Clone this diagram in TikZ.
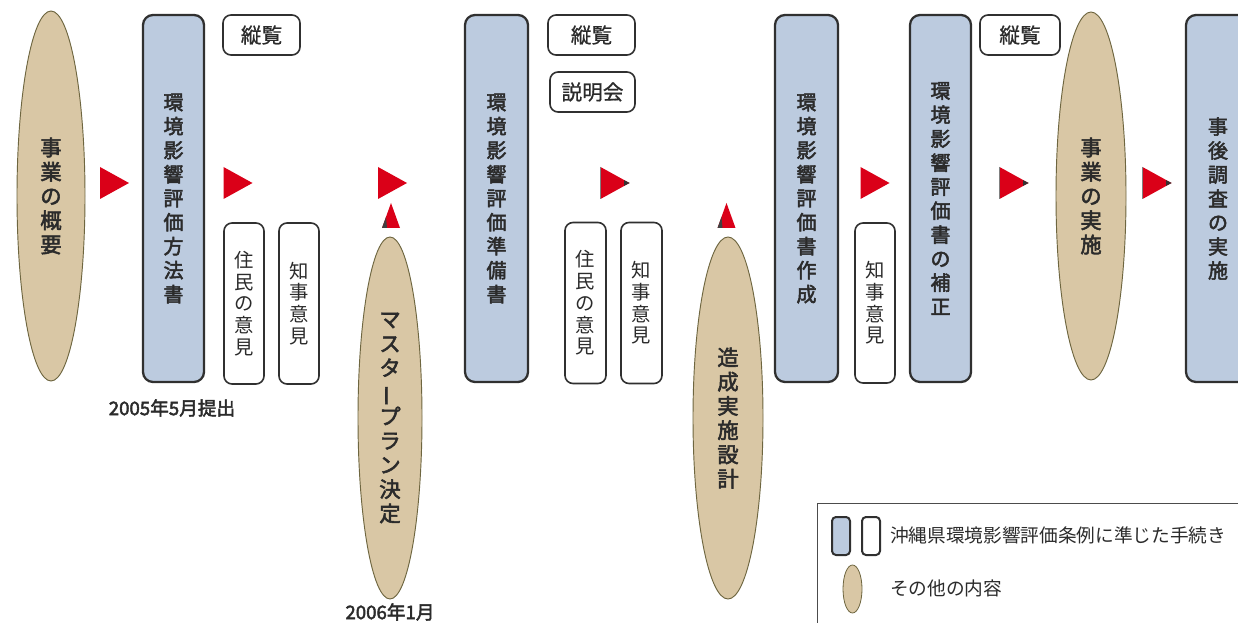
\documentclass[tikz,border=0pt]{standalone}
\usepackage{fontspec}
\usepackage{graphicx}
\newfontfamily\jp{Noto Sans CJK JP}
\newfontfamily\jpb[FakeBold=2.5]{Noto Sans CJK JP}
\newfontfamily\jpm[FakeBold=0.8]{Noto Sans CJK JP}
\usetikzlibrary{shapes.geometric}
\definecolor{arrred}{HTML}{DA0018}
\definecolor{ellfill}{HTML}{D9C7A5}
\definecolor{ellline}{HTML}{6E6640}
\definecolor{bluefill}{HTML}{BCCBDF}
\definecolor{boxline}{HTML}{303030}
\definecolor{txt}{HTML}{2B2B2B}
\newcommand\tatebou{\rotatebox[origin=c]{90}{ー}}
\tikzset{
  sz/.style 2 args={minimum width=#1*0.75pt, minimum height=#2*0.75pt},
  ell/.style={ellipse, draw=ellline, fill=ellfill, line width=0.7pt, inner sep=0pt,
    text=txt, align=center, font=\jpb\fontsize{16}{18.2}\selectfont},
  bluebox/.style={rectangle, rounded corners=7.5pt, draw=boxline, fill=bluefill,
    line width=1.7pt, inner sep=0pt, text=txt, align=center,
    font=\jpb\fontsize{15}{18}\selectfont},
  vbox/.style={rectangle, rounded corners=6pt, draw=boxline, fill=white,
    line width=1.2pt, inner sep=0pt, text=txt, align=center,
    font=\jp\fontsize{14.5}{16.3}\selectfont},
  wbox/.style={rectangle, rounded corners=6pt, draw=boxline, fill=white,
    line width=1.2pt, inner sep=0pt, text=txt,
    font=\jpm\fontsize{15.5}{18}\selectfont},
  datelabel/.style={inner sep=0pt, text=txt, font=\jpb\fontsize{14}{16}\selectfont},
  legtext/.style={inner sep=0pt, anchor=west, text=txt, font=\jp\fontsize{14}{16}\selectfont},
  rarrow/.pic={\fill[arrred] (-14.5,-16) -- (14.5,0) -- (-14.5,16) -- cycle;},
  rarrowd/.pic={\fill[arrred] (-14.5,-16) -- (14.5,0) -- (-14.5,16) -- cycle;
    \fill[black!80] (9,-2.8) -- (14.5,0) -- (9,2.8) -- cycle;
    \draw[gray, line width=0.8pt] (-14.5,-16) -- (-14.5,16);},
  uarrow/.pic={\fill[arrred] (-9,12.5) -- (0,-12.5) -- (9,12.5) -- cycle;
    \fill[black!75] (-9,12.5) -- (-5,1.5) -- (-4,12.5) -- cycle;},
}
\begin{document}
\begin{tikzpicture}[x=0.75pt,y=-0.75pt]
\useasboundingbox (0,0) rectangle (1238,623);
\clip (0,0) rectangle (1238,623);
\fill[white] (0,0) rectangle (1238,623);

% stage 1
\node[ell, sz={68}{370}] (e1) at (51,196) {事\\業\\の\\概\\要};
\node[bluebox, sz={61}{367}] (b1) at (173.5,198.5) {環\\境\\影\\響\\評\\価\\方\\法\\書};
\node[wbox, sz={77}{40}] (r1) at (261.5,35) {縦覧};
\node[vbox, sz={40}{161}] (j1) at (244,303.5) {住\\民\\の\\意\\見};
\node[vbox, sz={40}{161}] (c1) at (299,303.5) {知\\事\\意\\見};
\node[datelabel] (d1) at (172,408) {2005年5月提出};

% stage 2
\node[ell, sz={64}{362}] (e2) at (390,418) {マ\\ス\\タ\\\tatebou\\プ\\ラ\\ン\\決\\定};
\node[datelabel] (d2) at (390,612) {2006年1月};
\node[bluebox, sz={63}{367}] (b2) at (496.5,198.5) {環\\境\\影\\響\\評\\価\\準\\備\\書};
\node[wbox, sz={87}{40}] (r2) at (591.5,35) {縦覧};
\node[wbox, sz={85}{40}] (s2) at (592.5,92) {説明会};
\node[vbox, sz={41}{161}] (j2) at (585.5,303) {住\\民\\の\\意\\見};
\node[vbox, sz={41}{161}] (c2) at (641.5,303) {知\\事\\意\\見};

% stage 3
\node[ell, sz={70}{362}] (e3) at (728,418) {造\\成\\実\\施\\設\\計};
\node[bluebox, sz={63}{367}] (b3) at (806.5,198.5) {環\\境\\影\\響\\評\\価\\書\\作\\成};
\node[vbox, sz={40}{160}] (c3) at (875,303) {知\\事\\意\\見};
\node[bluebox, sz={61}{367}] (b4) at (940.5,198.5) {環\\境\\影\\響\\評\\価\\書\\の\\補\\正};
\node[wbox, sz={80}{40}] (r4) at (1020,35) {縦覧};
\node[ell, sz={70}{368}] (e4) at (1091,196) {事\\業\\の\\実\\施};
\node[bluebox, sz={64}{367}] (b5) at (1218,198.5) {事\\後\\調\\査\\の\\実\\施};

% arrows
\pic (a1) at (114.5,183) {rarrow};
\pic (a2) at (238,183) {rarrow};
\pic (a3) at (392.5,183) {rarrow};
\pic (a4) at (615,183) {rarrowd};
\pic (a5) at (875,183) {rarrow};
\pic (a6) at (1014,183) {rarrowd};
\pic (a7) at (1157,183) {rarrowd};
\pic (u1) at (391,215.5) {uarrow};
\pic (u2) at (726.5,215.5) {uarrow};

% legend
\node[draw=black!70, line width=0.9pt, inner sep=0pt, anchor=north west, sz={440}{150}] (leg) at (817,503) {};
\node[rectangle, rounded corners=3pt, draw=boxline, fill=bluefill, line width=1.5pt, sz={18}{38}] (lb) at (841,536) {};
\node[rectangle, rounded corners=3pt, draw=boxline, fill=white, line width=1.5pt, sz={18}{38}] (lw) at (871,536) {};
\node[legtext] (lt1) at (890,535) {沖縄県環境影響評価条例に準じた手続き};
\node[ellipse, draw=ellline, fill=ellfill, line width=0.6pt, inner sep=0pt, sz={19}{48}] (le) at (852.5,589) {};
\node[legtext] (lt2) at (890,588) {その他の内容};
\end{tikzpicture}
\end{document}
